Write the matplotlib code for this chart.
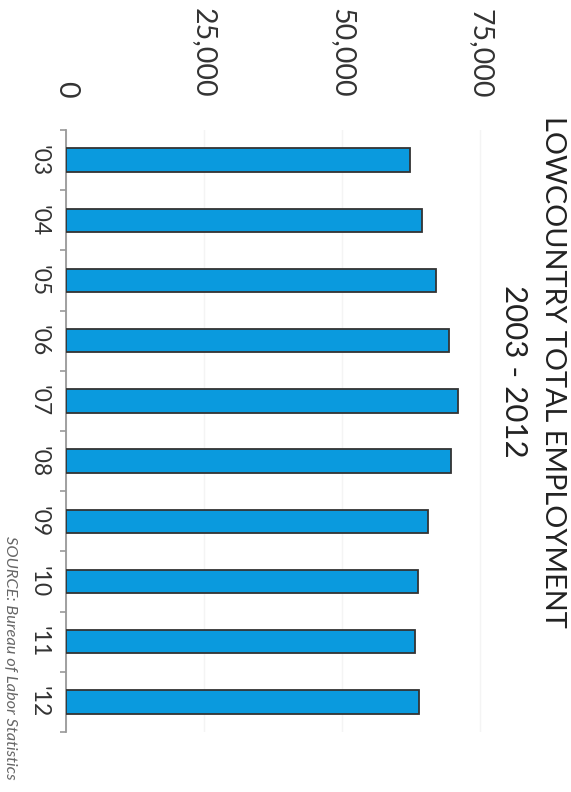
import matplotlib
matplotlib.use('Agg')
import matplotlib.pyplot as plt
import numpy as np

# data
years = ["'03", "'04", "'05", "'06", "'07", "'08", "'09", "'10", "'11", "'12"]
employment = [62300, 64400, 67000, 69400, 71000, 69750, 65500, 63700, 63300, 64000]
value_ticks = [0, 25000, 50000, 75000]
value_labels = ['0', '25,000', '50,000', '75,000']

plt.rcParams['font.family'] = ['Lato', 'DejaVu Sans']

fig = plt.figure(figsize=(5.71, 7.92), dpi=100)
ax = fig.add_axes([0.1156, 0.0758, 0.7734, 0.7601])

pos = np.arange(len(years))
ax.barh(pos, employment, height=0.39, color='#0a9ade', edgecolor='#333333', linewidth=1.3, zorder=3)

ax.set_xlim(0, 80000)
ax.set_ylim(len(years) - 0.5, -0.5)

# value axis on top, rotated labels
ax.xaxis.tick_top()
ax.set_xticks(value_ticks)
ax.set_xticklabels(value_labels, rotation=-90, fontsize=20.5, color='#333333')
ax.tick_params(axis='x', length=0, pad=23)
ax.grid(axis='x', color='#f4f4f4', linewidth=1, zorder=0)

# category axis on the left
ax.set_yticks(pos)
ax.set_yticklabels(years, rotation=-90, fontsize=16.5, color='#333333', va='center')
ax.set_yticks(np.arange(len(years) + 1) - 0.5, minor=True)
ax.tick_params(axis='y', which='major', length=0, pad=12)
ax.tick_params(axis='y', which='minor', length=4, width=1.2, color='#999999')

for s in ['top', 'right', 'bottom']:
    ax.spines[s].set_visible(False)
ax.spines['left'].set_color('#999999')
ax.spines['left'].set_linewidth(1.3)

fig.text(553 / 571, 1 - 372 / 792, 'LOWCOUNTRY TOTAL EMPLOYMENT', rotation=-90,
         ha='center', va='center', fontsize=20.8, color='#222222')
fig.text(514 / 571, 1 - 371 / 792, '2003 - 2012', rotation=-90,
         ha='center', va='center', fontsize=22.5, color='#222222')
fig.text(10 / 571, 1 - 658 / 792, 'SOURCE: Bureau of Labor Statistics', rotation=-90,
         ha='center', va='center', fontsize=11.8, style='italic', color='#666666')

fig.savefig('out.png', dpi=100)
